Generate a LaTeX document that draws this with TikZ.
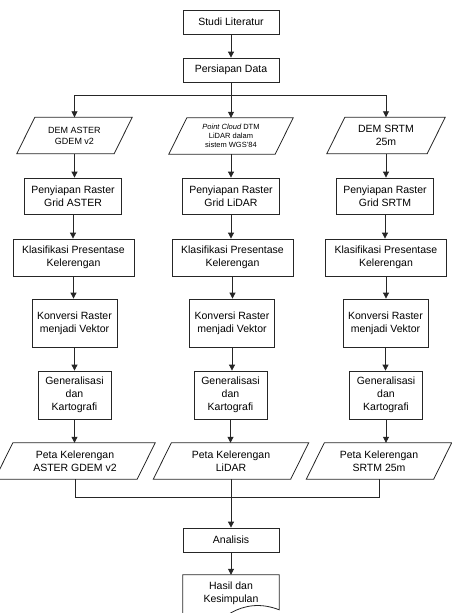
\documentclass[tikz,border=0pt]{standalone}
\usepackage{fontspec}
\setmainfont{Liberation Sans}
\usetikzlibrary{arrows.meta}
\begin{document}
\begin{tikzpicture}[x=1pt,y=1pt,
  line/.style={draw=black!85, line width=0.8pt},
  arr/.style={line, -{Triangle[length=6pt,width=6pt]}},
  box/.style={draw=black!85, line width=0.8pt, rectangle, inner sep=0pt, align=center, text=black, font=\fontsize{10.5}{13}\selectfont},
  para/.style={rectangle, inner sep=0pt, align=center, text=black, font=\fontsize{10.5}{13}\selectfont},
]
\useasboundingbox (0,0) rectangle (451,-613);

% top
\node[box, minimum width=96, minimum height=24] (studi) at (231,-22) {Studi Literatur};
\node[box, minimum width=96, minimum height=24] (pers) at (231,-70) {Persiapan Data};

% input parallelograms
\node[para, minimum width=115, minimum height=36, font=\fontsize{9}{11}\selectfont] (in1) at (74.5,-135.5) {DEM ASTER\\GDEM v2};
\node[para, minimum width=124, minimum height=36, font=\fontsize{7.5}{9}\selectfont] (in2) at (231,-136) {{\itshape Point Cloud} DTM\\LiDAR dalam\\sistem WGS’84};
\node[para, minimum width=118, minimum height=36] (in3) at (386,-135.5) {DEM SRTM\\25m};

% row 2
\node[box, minimum width=97, minimum height=36] (pr1) at (73,-196) {Penyiapan Raster\\Grid ASTER};
\node[box, minimum width=97, minimum height=36] (pr2) at (231,-196) {Penyiapan Raster\\Grid LiDAR};
\node[box, minimum width=97, minimum height=36] (pr3) at (385,-196) {Penyiapan Raster\\Grid SRTM};

% row 3
\node[box, minimum width=121, minimum height=37] (kl1) at (73.5,-257.5) {Klasifikasi Presentase\\Kelerengan};
\node[box, minimum width=121, minimum height=37] (kl2) at (232.5,-257.5) {Klasifikasi Presentase\\Kelerengan};
\node[box, minimum width=121, minimum height=37] (kl3) at (386,-257.5) {Klasifikasi Presentase\\Kelerengan};

% row 4
\node[box, minimum width=85, minimum height=48] (kv1) at (74.5,-323) {Konversi Raster\\menjadi Vektor};
\node[box, minimum width=85, minimum height=48] (kv2) at (232,-323) {Konversi Raster\\menjadi Vektor};
\node[box, minimum width=85, minimum height=48] (kv3) at (385.5,-323) {Konversi Raster\\menjadi Vektor};

% row 5
\node[box, minimum width=73, minimum height=48] (gn1) at (74.5,-395) {Generalisasi\\dan\\Kartografi};
\node[box, minimum width=73, minimum height=48] (gn2) at (230.5,-395) {Generalisasi\\dan\\Kartografi};
\node[box, minimum width=73, minimum height=48] (gn3) at (386,-395) {Generalisasi\\dan\\Kartografi};

% row 6 parallelograms
\node[para, minimum width=160, minimum height=36] (pk1) at (75,-461) {Peta Kelerengan\\ASTER GDEM v2};
\node[para, minimum width=155, minimum height=36] (pk2) at (231,-461) {Peta Kelerengan\\LiDAR};
\node[para, minimum width=145, minimum height=36] (pk3) at (379,-461) {Peta Kelerengan\\SRTM 25m};

% bottom
\node[box, minimum width=96, minimum height=24] (ana) at (231,-540) {Analisis};
\node[para, minimum width=96, minimum height=36] (hasil) at (231,-593) {Hasil dan\\Kesimpulan};

% parallelogram outlines
\foreach \n in {in1,in2,in3,pk1,pk2,pk3}
  \draw[line] ([xshift=18]\n.north west) -- (\n.north east) -- ([xshift=-18]\n.south east) -- (\n.south west) -- cycle;

% document shape
\draw[line] (hasil.south west) |- (hasil.north east) -- ([yshift=-35]hasil.north east)
  .. controls ([xshift=-18,yshift=-28]hasil.north east) and ([xshift=-34,yshift=-30]hasil.north east) .. ([yshift=-38]hasil.north)
  .. controls ([xshift=-16,yshift=-48]hasil.north) and ([xshift=-34,yshift=-48]hasil.north) .. ([yshift=-44]hasil.north west) -- cycle;

% connectors top
\coordinate (tb) at (231,-95);
\draw[arr] (studi) -- (pers);
\draw[line] (pers.south) -- (tb);
\draw[line] (in1.north |- tb) -- (in3.north |- tb);
\foreach \n in {in1,in2,in3}
  \draw[arr] (\n.north |- tb) -- (\n.north);

% column connectors
\foreach \a/\b in {in1/pr1,in2/pr2,in3/pr3,pr1/kl1,pr2/kl2,pr3/kl3,kl1/kv1,kl2/kv2,kl3/kv3,kv1/gn1,kv2/gn2,kv3/gn3,gn1/pk1,gn2/pk2,gn3/pk3}
  \draw[arr] (\a.south) -- (\a.south |- \b.north);

% bottom merge
\coordinate (bb) at (231,-497);
\draw[line] (pk1.south) -- (pk1.south |- bb) -- (pk3.south |- bb) -- (pk3.south);
\draw[line] (pk2.south) -- (bb);
\draw[arr] (bb) -- (ana.north);
\draw[arr] (ana.south) -- (hasil.north);
\end{tikzpicture}
\end{document}
